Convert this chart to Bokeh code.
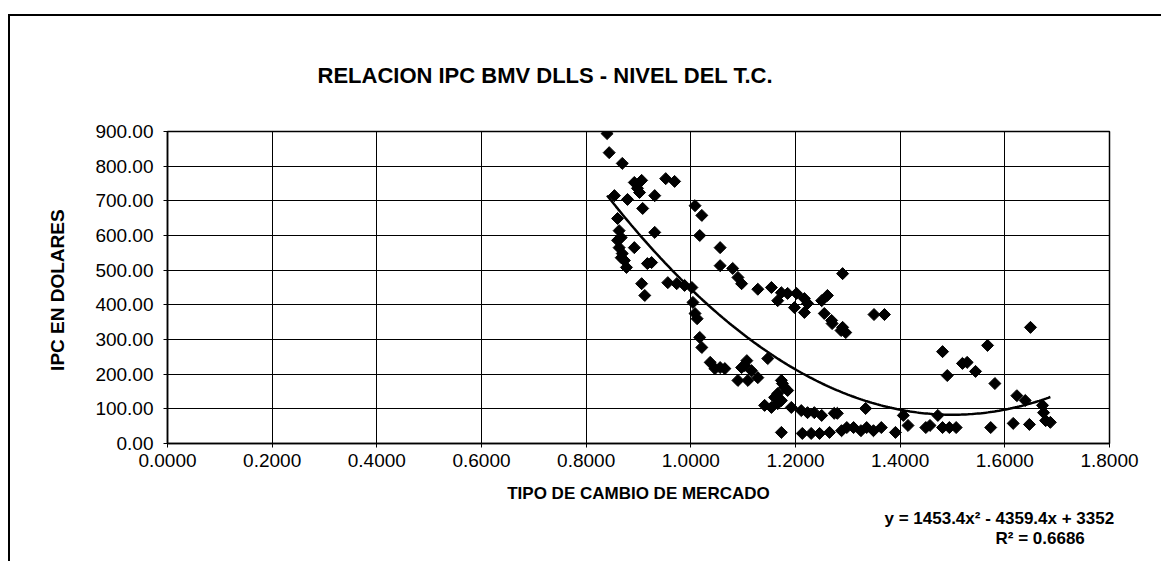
from bokeh.plotting import figure
from bokeh.models import FixedTicker, PrintfTickFormatter, Range1d, Title
from bokeh.embed import file_html
from bokeh.resources import INLINE
import numpy as np

# ---- data ----
tipo_cambio = [
    0.840, 0.844, 0.869, 0.892, 0.906, 0.898, 0.902, 0.952, 0.969, 0.854,
    0.879, 0.931, 0.908, 0.860, 0.863, 0.867, 0.860, 0.863, 0.869, 0.873,
    0.877, 0.867, 0.892, 0.931, 0.917, 0.925, 0.906, 0.912, 0.956, 0.973,
    0.988, 1.002, 1.008, 1.021, 1.017, 1.056, 1.056, 1.004, 1.008, 1.012,
    1.017, 1.021, 1.037, 1.046, 1.056, 1.065, 1.080, 1.090, 1.097, 1.128,
    1.154, 1.173, 1.185, 1.202, 1.217, 1.223, 1.166, 1.198, 1.217, 1.261,
    1.250, 1.255, 1.269, 1.270, 1.290, 1.290, 1.296, 1.287, 1.350, 1.370,
    1.147, 1.107, 1.097, 1.116, 1.090, 1.109, 1.128, 1.103, 1.175, 1.173,
    1.179, 1.166, 1.160, 1.173, 1.185, 1.141, 1.154, 1.166, 1.192, 1.211,
    1.223, 1.236, 1.250, 1.280, 1.274, 1.334, 1.406, 1.472, 1.481, 1.490,
    1.519, 1.528, 1.544, 1.567, 1.581, 1.649, 1.623, 1.639, 1.672, 1.674,
    1.173, 1.213, 1.230, 1.246, 1.265, 1.288, 1.298, 1.311, 1.325, 1.336,
    1.349, 1.364, 1.391, 1.415, 1.457, 1.449, 1.481, 1.494, 1.507, 1.573,
    1.616, 1.647, 1.678, 1.687,
]
ipc_dolares = [
    894, 839, 808, 753, 759, 736, 724, 764, 756, 715,
    704, 715, 678, 649, 614, 594, 586, 565, 548, 528,
    508, 536, 565, 609, 519, 522, 461, 427, 464, 461,
    456, 450, 686, 658, 600, 565, 513, 407, 375, 360,
    306, 277, 234, 216, 219, 216, 505, 479, 461, 445,
    450, 435, 433, 433, 418, 404, 412, 392, 378, 427,
    412, 375, 355, 346, 335, 490, 320, 326, 372, 372,
    245, 239, 219, 210, 182, 182, 190, 225, 173, 182,
    162, 144, 133, 124, 153, 110, 104, 115, 104, 95,
    89, 89, 81, 87, 87, 101, 81, 81, 265, 196,
    231, 234, 208, 283, 173, 335, 138, 124, 110, 89,
    32, 29, 29, 29, 32, 37, 46, 46, 37, 46,
    37, 46, 32, 52, 52, 46, 46, 46, 46, 46,
    58, 55, 66, 61,
]
x_ticks = [0.0, 0.2, 0.4, 0.6, 0.8, 1.0, 1.2, 1.4, 1.6, 1.8]
y_ticks = [0, 100, 200, 300, 400, 500, 600, 700, 800, 900]
trend_coef = [1453.4, -4359.4, 3352.0]   # y = 1453.4x^2 - 4359.4x + 3352
title_text = "RELACION IPC BMV DLLS - NIVEL DEL T.C."
x_title = "TIPO DE CAMBIO DE MERCADO"
y_title = "IPC EN  DOLARES"
eq_text = "y = 1453.4x² - 4359.4x + 3352"
r2_text = "R² = 0.6686"

FONT = "Liberation Sans"

# canvas starts at page (10, 16) because of the CSS margin + border below
p = figure(width=1153, height=547,
           x_range=Range1d(0, 1.8), y_range=Range1d(0, 900),
           output_backend="svg", toolbar_location=None,
           min_border_left=157, min_border_right=54,
           min_border_top=115, min_border_bottom=120)
p.styles = {"margin-left": "8px", "margin-top": "14px",
            "border-left": "2px solid black", "border-top": "2px solid black"}

p.background_fill_color = "white"
p.border_fill_color = "white"
p.outline_line_color = "black"
p.outline_line_width = 1.5

for ax in (p.xaxis[0], p.yaxis[0]):
    ax.axis_line_color = "black"
    ax.axis_line_width = 1.5
    ax.major_tick_line_color = "black"
    ax.major_tick_in = 0
    ax.major_tick_out = 4
    ax.minor_tick_line_color = None
    ax.major_label_text_font = FONT
    ax.major_label_text_font_size = "19px"
    ax.major_label_text_color = "black"
    ax.axis_label_text_font = FONT
    ax.axis_label_text_font_style = "bold"
    ax.axis_label_text_color = "black"

p.xaxis.ticker = FixedTicker(ticks=x_ticks)
p.yaxis.ticker = FixedTicker(ticks=y_ticks)
p.xaxis.formatter = PrintfTickFormatter(format="%.4f")
p.yaxis.formatter = PrintfTickFormatter(format="%.2f")
p.xaxis.major_label_standoff = 6
p.yaxis.major_label_standoff = 10
p.xaxis.axis_label = x_title
p.yaxis.axis_label = y_title
p.xaxis.axis_label_text_font_size = "17px"
p.yaxis.axis_label_text_font_size = "19px"
p.xaxis.axis_label_standoff = 14
p.yaxis.axis_label_standoff = 24

p.grid.grid_line_color = "black"
p.grid.grid_line_width = 1
p.grid.grid_line_alpha = 1

# rhombus-shaped markers (square rotated 45 degrees)
p.scatter(tipo_cambio, ipc_dolares, marker="square", size=8.5, angle=np.pi / 4,
          fill_color="black", line_color="black")

xs = np.linspace(min(tipo_cambio), max(tipo_cambio), 200)
ys = np.polyval(trend_coef, xs)
p.line(xs, ys, line_color="black", line_width=2.5)

p.add_layout(Title(text=title_text, align="left", offset=150, standoff=88,
                   text_font=FONT, text_font_style="bold",
                   text_font_size="22px", text_color="black"), "above")
p.add_layout(Title(text=eq_text, align="left", offset=717, standoff=2,
                   text_font=FONT, text_font_style="bold",
                   text_font_size="17px", text_color="black"), "below")
p.add_layout(Title(text=r2_text, align="left", offset=828, standoff=-4,
                   text_font=FONT, text_font_style="bold",
                   text_font_size="17px", text_color="black"), "below")

open("out.html", "w").write(file_html(p, INLINE))
